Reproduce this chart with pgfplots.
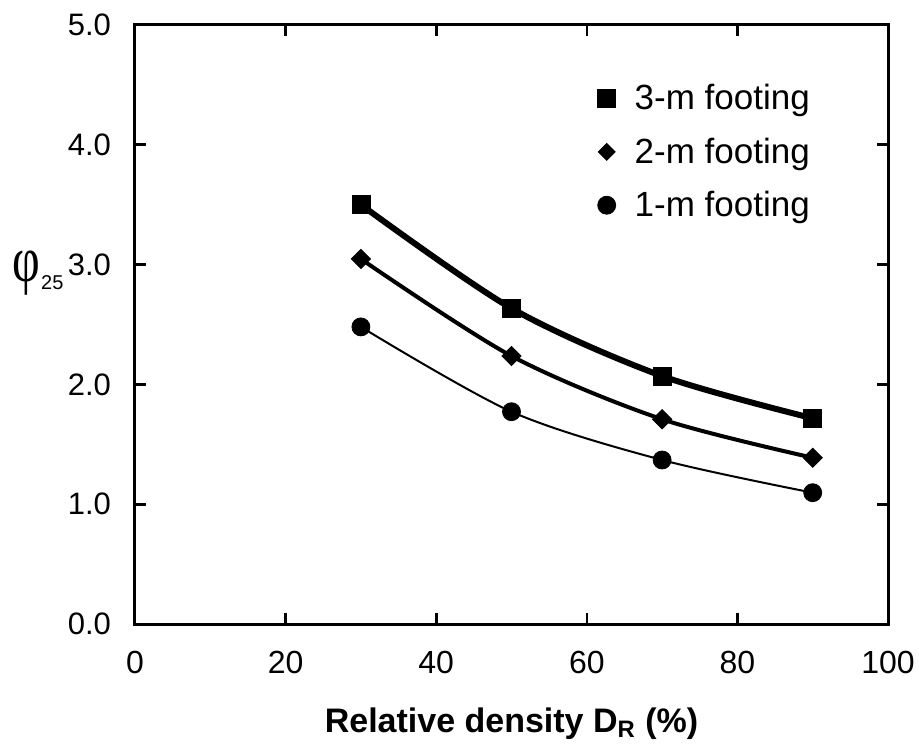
\documentclass[border=0pt]{standalone}
\usepackage{fontspec}
\setmainfont{Liberation Sans}
\newfontfamily\greekserif{Liberation Serif}
\usepackage{pgfplots}
\pgfplotsset{compat=1.18}

\begin{document}
\begin{tikzpicture}
\begin{axis}[
  name=ax,
  scale only axis,
  width=376.5pt, height=299.5pt,
  xmin=0, xmax=100, ymin=0, ymax=5,
  xtick={0,20,...,100}, ytick={0,1,...,5},
  tick align=inside,
  major tick length=5.5pt,
  axis line style={line width=1.5pt},
  every tick/.style={line width=1.3pt, black},
  /pgf/number format/assume math mode=true,
  tick label style={font=\fontsize{16}{19}\selectfont},
  y tick label style={/pgf/number format/.cd, fixed, fixed zerofill, precision=1, /tikz/.cd,
    font=\fontsize{15.5}{19}\selectfont, xshift=-8.5pt},
  x tick label style={yshift=-10pt},
  xlabel={\textbf{Relative density D\textsubscript{R} (\%)}},
  every axis x label/.style={at={(axis description cs:0.5,0)}, anchor=base, yshift=-54pt, font=\fontsize{17}{20}\selectfont},
  ylabel={{\greekserif\fontsize{24}{26}\selectfont\scalebox{1}[1.35]{φ}}\kern0.5pt{\fontsize{10}{11}\selectfont\raisebox{-4pt}{25}}},
  every axis y label/.style={at={(axis description cs:0,0.585)}, anchor=center, xshift=-48.5pt},
  legend style={draw=none, fill=none, at={(axis description cs:0.606,0.915)}, anchor=north west,
    font=\fontsize{17.5}{20}\selectfont, row sep=8.5pt, cells={anchor=west},
    /tikz/every odd column/.append style={column sep=7.5pt}},
]
% legend symbols (marks only)
\addlegendimage{black, only marks, mark=square*, mark size=4.5pt}
\addlegendimage{black, only marks, mark=square*, mark size=3pt, mark options={rotate=45}}
\addlegendimage{black, only marks, mark=*, mark size=4.5pt}
\legend{3-m footing, 2-m footing, 1-m footing}

% 3-m footing
\addplot[black, line width=3pt, smooth, mark=square*, mark size=4.5pt,
  mark options={solid, line width=0.4pt}]
  coordinates {(30,3.500) (50,2.635) (70,2.070) (90,1.717)};
% 2-m footing
\addplot[black, line width=2pt, smooth, mark=square*, mark size=3.4pt,
  mark options={solid, line width=0.4pt, rotate=45}]
  coordinates {(30,3.047) (50,2.237) (70,1.709) (90,1.388)};
% 1-m footing
\addplot[black, line width=1pt, smooth, mark=*, mark size=4.5pt,
  mark options={solid, line width=0.4pt}]
  coordinates {(30,2.480) (50,1.772) (70,1.369) (90,1.096)};
\end{axis}
\pgfresetboundingbox
\path[use as bounding box] ([shift={(-67.5pt,-60.5pt)}]ax.south west) rectangle ([shift={(15.5pt,12.5pt)}]ax.north east);
\end{tikzpicture}
\end{document}
